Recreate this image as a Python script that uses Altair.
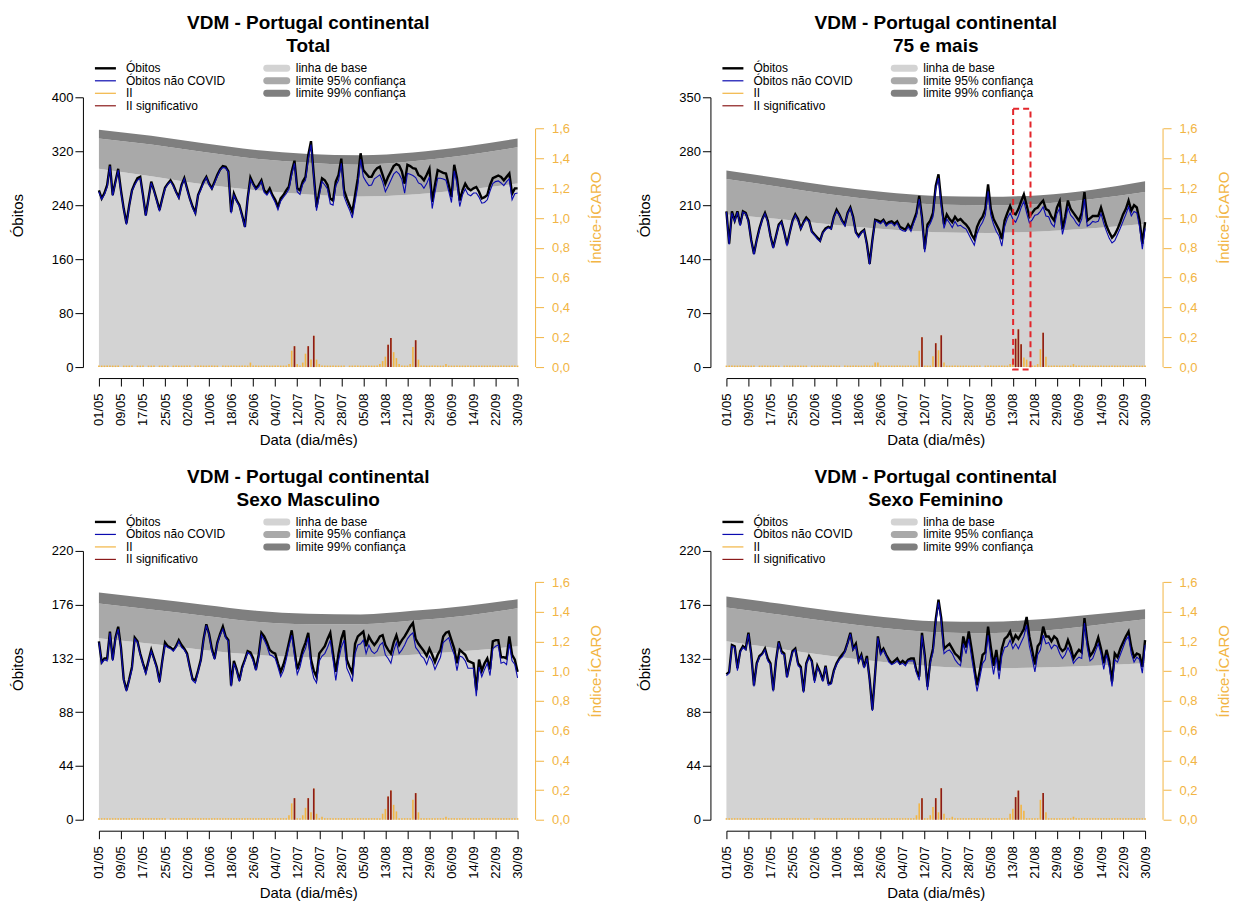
import altair as alt
import pandas as pd

# ---------------------------------------------------------------------------
# Daily mortality surveillance (VDM), 1 May - 30 Sep; day 0 = 01/05
# ---------------------------------------------------------------------------
N_DAYS = 153
DAY_TICKS = list(range(0, 153, 8))
DAY_LABELS = ["01/05", "09/05", "17/05", "25/05", "02/06", "10/06", "18/06",
              "26/06", "04/07", "12/07", "20/07", "28/07", "05/08", "13/08",
              "21/08", "29/08", "06/09", "14/09", "22/09", "30/09"]
ICARO_TICKS = [0, 0.2, 0.4, 0.6, 0.8, 1.0, 1.2, 1.4, 1.6]

# days at which the expected-deaths baseline and limits are given
KNOT_DAYS = [0, 19, 38, 57, 76, 95, 114, 133, 152]

# ---- Total ----------------------------------------------------------------
obitos_total = [
    262, 250, 258, 270, 300, 255, 275, 294, 262, 235,
    213, 240, 262, 272, 280, 282, 255, 225, 250, 275,
    262, 248, 233, 250, 266, 272, 277, 270, 260, 252,
    270, 280, 265, 250, 238, 229, 255, 265, 275, 282,
    272, 265, 275, 285, 293, 298, 297, 290, 230, 257,
    247, 240, 225, 208, 250, 281, 272, 265, 270, 277,
    262, 258, 265, 255, 248, 238, 250, 255, 262, 268,
    290, 306, 265, 262, 275, 282, 314, 335, 285, 237,
    260, 280, 277, 270, 250, 247, 275, 285, 309, 262,
    250, 240, 230, 255, 280, 317, 292, 287, 282, 282,
    290, 295, 297, 285, 272, 282, 290, 298, 301, 299,
    290, 272, 300, 298, 295, 294, 285, 282, 277, 285,
    294, 245, 270, 292, 290, 288, 287, 270, 252, 300,
    280, 247, 262, 272, 265, 262, 265, 267, 260, 250,
    252, 255, 270, 280, 282, 284, 282, 277, 282, 287,
    257, 265, 265]
covid_total = [
    2, 1, 2, 3, 2, 1, 2, 2, 3, 1, 2, 2, 1, 2, 3, 2, 2, 1, 2, 2,
    1, 2, 2, 1, 2, 1, 2, 2, 1, 2, 2, 1, 2, 1, 2, 2, 1, 2, 2, 1,
    2, 1, 2, 2, 1, 2, 2, 1, 2, 2, 1, 2, 2, 1, 2, 3, 2, 2, 3, 2,
    3, 3, 4, 3, 4, 5, 4, 3, 5, 4, 5, 4, 5, 6, 4, 5, 6, 5, 4, 5,
    6, 5, 7, 6, 8, 7, 6, 8, 7, 9, 8, 7, 9, 10, 11, 9, 10, 12, 13, 12,
    11, 13, 12, 10, 12, 14, 13, 12, 11, 13, 12, 14, 13, 12, 11, 13, 12, 11, 12, 13,
    12, 10, 11, 12, 10, 9, 10, 9, 8, 9, 8, 9, 7, 8, 9, 8, 7, 9, 8, 7,
    8, 7, 9, 8, 7, 8, 9, 8, 7, 8, 9, 8, 7]
ii_total = [  # indice ICARO x 100
    1, 1, 1, 1, 1, 1, 1, 1, 0, 1, 1, 1, 1, 0, 1, 1, 1, 0, 1, 1,
    1, 0, 1, 1, 1, 1, 0, 1, 1, 1, 1, 1, 1, 1, 0, 1, 1, 1, 1, 1,
    1, 1, 1, 1, 0, 1, 1, 1, 1, 1, 1, 1, 1, 1, 1, 3, 1, 1, 1, 1,
    1, 1, 1, 1, 1, 1, 1, 1, 1, 2, 11, 14, 2, 1, 3, 9, 14, 5, 21, 5,
    2, 1, 1, 1, 1, 1, 1, 1, 1, 1, 0, 1, 1, 1, 1, 1, 1, 1, 1, 1,
    1, 1, 2, 4, 7, 15, 19.5, 10, 6, 2, 1, 1, 1, 2, 13.5, 18, 5, 1, 1, 1,
    1, 1, 1, 1, 1, 1, 2, 1, 1, 1, 1, 1, 1, 1, 1, 1, 1, 1, 1, 1,
    1, 1, 1, 1, 1, 1, 1, 1, 1, 1, 1, 1, 1]
sig_total = [71, 76, 78, 105, 106, 115]
base_total = [294, 283, 271, 262, 256, 253, 256, 263, 272]
l95_total = [339, 330, 319, 309, 303, 300, 305, 314, 326]
l99_total = [352, 343, 332, 322, 316, 314, 318, 327, 339]

# ---- 75 e mais ------------------------------------------------------------
obitos_75 = [
    202, 160, 202, 190, 202, 185, 202, 200, 190, 165,
    147, 165, 180, 192, 200, 190, 170, 155, 170, 185,
    189, 175, 159, 175, 190, 198, 192, 180, 188, 194,
    190, 176, 172, 168, 164, 175, 180, 182, 180, 195,
    204, 198, 190, 185, 200, 207, 195, 175, 170, 175,
    178, 160, 134, 165, 191, 190, 188, 191, 185, 188,
    189, 186, 189, 182, 180, 178, 185, 180, 190, 200,
    222, 195, 153, 185, 190, 200, 235, 250, 215, 185,
    198, 192, 188, 195, 190, 192, 188, 185, 180, 172,
    166, 182, 190, 195, 205, 237, 205, 192, 185, 178,
    166, 190, 200, 209, 200, 198, 205, 215, 224, 210,
    195, 200, 205, 207, 212, 216, 205, 203, 195, 190,
    207, 215, 179, 195, 216, 205, 200, 195, 190, 200,
    227, 190, 193, 196, 196, 196, 207, 195, 183, 175,
    168, 172, 179, 188, 198, 205, 216, 203, 210, 207,
    190, 160, 188]
covid_75 = [
    1, 1, 2, 1, 1, 2, 1, 1, 2, 1, 1, 1, 2, 1, 1, 2, 1, 1, 1, 2,
    1, 1, 2, 1, 1, 1, 2, 1, 1, 2, 1, 1, 1, 2, 1, 1, 2, 1, 1, 1,
    2, 1, 1, 2, 1, 1, 2, 1, 2, 1, 1, 2, 1, 2, 1, 2, 2, 1, 2, 2,
    2, 3, 2, 3, 3, 2, 3, 4, 3, 4, 4, 3, 4, 5, 4, 5, 4, 5, 6, 5,
    6, 5, 7, 6, 7, 8, 7, 6, 8, 7, 8, 9, 8, 7, 8, 9, 8, 7, 9, 8,
    9, 8, 7, 9, 8, 10, 9, 8, 9, 10, 8, 9, 8, 9, 10, 8, 9, 8, 9, 8,
    8, 9, 7, 8, 9, 8, 7, 8, 7, 8, 9, 7, 8, 7, 8, 7, 8, 9, 7, 8,
    7, 8, 7, 8, 9, 7, 8, 7, 8, 7, 8, 7, 8]
ii_75 = [
    1, 1, 1, 1, 1, 1, 1, 1, 1, 1, 1, 0, 1, 1, 1, 1, 1, 1, 1, 1,
    0, 1, 1, 1, 1, 1, 1, 1, 1, 1, 0, 1, 1, 1, 1, 1, 1, 1, 1, 1,
    1, 1, 0, 1, 1, 1, 1, 1, 1, 1, 1, 1, 1, 1, 3, 3, 1, 1, 1, 1,
    1, 1, 1, 1, 1, 1, 1, 1, 1, 1, 11, 20, 1, 1, 1, 7.3, 16, 11.3, 21.3, 3,
    1, 1, 1, 1, 1, 1, 1, 1, 1, 1, 1, 1, 1, 0, 1, 1, 1, 1, 1, 1,
    1, 1, 1, 2, 5.8, 19, 25.3, 15.3, 6.4, 5, 1, 1, 1, 2, 12, 23, 7, 1, 1, 1,
    1, 1, 1, 1, 1, 1, 2, 1, 1, 1, 1, 1, 1, 1, 1, 1, 1, 1, 1, 1,
    1, 1, 1, 1, 1, 1, 1, 1, 1, 1, 1, 1, 1]
sig_75 = [71, 76, 78, 105, 106, 107, 115]
base_75 = [198, 192, 185, 179, 175, 174, 176, 180, 186]
l95_75 = [244, 234, 224, 216, 211, 210, 212, 218, 227]
l99_75 = [255, 245, 235, 227, 222, 221, 223, 230, 241]
# dashed box marking the mid-August episode (days, deaths)
box_75 = {"d0": [104.1], "d1": [110.4], "v0": [-3], "v1": [335]}

# ---- Sexo Masculino -------------------------------------------------------
obitos_m = [
    146, 129, 132, 132, 154, 131, 149, 158, 141, 115,
    106, 115, 125, 149, 146, 136, 128, 121, 130, 139,
    132, 125, 113, 130, 145, 142, 141, 139, 142, 147,
    143, 140, 136, 125, 115, 114, 122, 131, 148, 160,
    152, 140, 132, 145, 152, 158, 150, 147, 110, 130,
    123, 114, 125, 131, 138, 137, 132, 123, 135, 153,
    150, 145, 139, 137, 136, 128, 121, 127, 135, 145,
    155, 139, 123, 130, 139, 145, 153, 131, 122, 117,
    136, 139, 142, 148, 153, 136, 121, 136, 148, 155,
    131, 125, 120, 144, 150, 152, 154, 142, 150, 146,
    143, 146, 150, 151, 143, 139, 136, 145, 151, 143,
    147, 150, 154, 158, 161, 148, 144, 141, 138, 134,
    140, 135, 129, 135, 139, 150, 153, 154, 147, 140,
    128, 139, 137, 135, 130, 129, 128, 106, 131, 122,
    128, 132, 123, 146, 147, 147, 133, 133, 132, 150,
    135, 131, 121]
covid_m = [
    1, 1, 1, 2, 1, 1, 1, 2, 1, 1, 1, 1, 2, 1, 1, 1, 1, 2, 1, 1,
    1, 1, 1, 1, 2, 1, 1, 1, 1, 1, 2, 1, 1, 1, 1, 2, 1, 1, 1, 1,
    1, 2, 1, 1, 1, 2, 1, 1, 1, 2, 1, 1, 2, 1, 1, 2, 2, 1, 2, 2,
    3, 3, 4, 3, 4, 3, 4, 5, 4, 3, 4, 5, 4, 5, 4, 5, 4, 5, 6, 5,
    6, 5, 6, 7, 6, 5, 7, 6, 7, 8, 7, 6, 7, 8, 7, 8, 7, 6, 7, 8,
    7, 8, 7, 6, 8, 7, 8, 7, 6, 7, 8, 7, 6, 7, 8, 7, 6, 7, 6, 7,
    6, 5, 6, 7, 6, 5, 6, 5, 6, 5, 6, 5, 4, 5, 6, 5, 4, 5, 6, 5,
    5, 4, 5, 6, 5, 4, 5, 4, 5, 6, 5, 4, 5]
ii_m = [
    1, 1, 1, 1, 1, 1, 1, 1, 1, 1, 1, 1, 1, 1, 1, 1, 1, 1, 1, 1,
    1, 1, 1, 1, 1, 0, 1, 1, 1, 1, 1, 1, 1, 1, 1, 1, 1, 1, 1, 1,
    1, 1, 1, 1, 1, 1, 1, 1, 1, 1, 1, 1, 1, 1, 1, 1, 1, 1, 1, 1,
    1, 1, 1, 1, 1, 1, 1, 1, 1, 3, 11, 14.5, 1, 1, 3, 8, 14.5, 5, 21, 4,
    1, 2, 1, 1, 1, 1, 1, 1, 1, 1, 1, 1, 1, 1, 1, 1, 1, 1, 1, 1,
    1, 1, 1, 4, 7.3, 15.6, 19.6, 10, 5.6, 1, 1, 1, 1, 1, 13.4, 17.9, 5, 1, 1, 1,
    1, 1, 1, 1, 1, 1, 2, 1, 1, 1, 1, 1, 1, 1, 1, 1, 1, 1, 1, 1,
    1, 1, 1, 1, 1, 1, 1, 1, 1, 1, 1, 1, 1]
sig_m = [71, 76, 78, 105, 106, 115]
base_m = [148.6, 144, 139, 135, 133, 133, 135, 138, 142]
l95_m = [177, 172, 167, 162, 160, 160, 163, 167, 173]
l99_m = [186, 181, 176, 171, 168.5, 168, 171, 175, 180.5]

# ---- Sexo Feminino --------------------------------------------------------
obitos_f = [
    119, 121, 143, 142, 124, 138, 142, 140, 153, 136,
    110, 128, 134, 136, 140, 132, 128, 106, 130, 146,
    138, 136, 117, 128, 138, 140, 128, 125, 105, 128,
    134, 130, 114, 126, 121, 114, 126, 112, 112, 122,
    128, 132, 135, 138, 145, 153, 140, 144, 130, 135,
    125, 134, 115, 90, 120, 150, 137, 140, 135, 131,
    128, 130, 132, 128, 130, 128, 131, 132, 132, 122,
    117, 153, 135, 109, 130, 140, 164, 180, 165, 140,
    142, 144, 140, 136, 134, 131, 150, 141, 154, 140,
    125, 110, 122, 135, 137, 158, 141, 126, 139, 122,
    140, 148, 150, 154, 146, 151, 148, 152, 156, 166,
    150, 139, 127, 142, 145, 158, 150, 150, 146, 150,
    148, 141, 138, 140, 147, 141, 132, 136, 139, 137,
    165, 146, 134, 137, 142, 149, 140, 128, 139, 130,
    113, 136, 133, 140, 145, 150, 154, 141, 133, 136,
    135, 125, 147]
covid_f = [
    1, 1, 1, 1, 2, 1, 1, 1, 1, 2, 1, 1, 1, 1, 1, 2, 1, 1, 1, 1,
    2, 1, 1, 1, 1, 1, 2, 1, 1, 1, 1, 1, 2, 1, 1, 1, 1, 2, 1, 1,
    1, 1, 2, 1, 1, 1, 1, 2, 1, 1, 1, 2, 1, 1, 1, 1, 2, 1, 1, 2,
    1, 2, 2, 1, 2, 2, 1, 2, 2, 2, 3, 2, 2, 3, 2, 3, 3, 2, 3, 4,
    4, 5, 4, 5, 6, 5, 6, 5, 6, 7, 6, 5, 6, 7, 6, 7, 8, 7, 6, 7,
    6, 7, 8, 7, 6, 7, 8, 7, 6, 7, 8, 7, 6, 7, 6, 7, 6, 5, 6, 7,
    6, 5, 6, 5, 6, 5, 4, 5, 6, 5, 4, 5, 4, 5, 4, 5, 4, 5, 4, 5,
    4, 5, 4, 5, 4, 3, 4, 5, 4, 3, 4, 5, 4]
ii_f = [
    1, 1, 1, 1, 1, 1, 1, 1, 1, 1, 1, 1, 1, 1, 1, 1, 1, 1, 1, 1,
    1, 1, 1, 1, 1, 1, 1, 1, 1, 1, 1, 0, 1, 1, 1, 1, 1, 1, 1, 1,
    1, 1, 1, 1, 1, 1, 1, 1, 1, 1, 1, 1, 1, 1, 1, 1, 1, 1, 1, 1,
    1, 1, 1, 1, 1, 1, 1, 1, 1, 3, 11, 14.5, 1, 1, 3, 8.5, 14.5, 5, 21.2, 4,
    1, 1, 2, 1, 1, 1, 1, 1, 1, 1, 1, 1, 1, 1, 1, 1, 1, 1, 1, 1,
    1, 1, 1, 4, 7.3, 15.2, 19.6, 10, 6, 1, 1, 1, 1, 1, 13.4, 17.9, 5, 1, 1, 1,
    1, 1, 1, 1, 1, 1, 2, 1, 1, 1, 1, 1, 1, 1, 1, 1, 1, 1, 1, 1,
    1, 1, 1, 1, 1, 1, 1, 1, 1, 1, 1, 1, 1]
sig_f = [71, 76, 78, 105, 106, 115]
base_f = [146, 140, 134, 129, 125.5, 124, 124.5, 126, 128]
l95_f = [173.7, 168, 162, 157, 153.5, 152.7, 154.5, 159, 164]
l99_f = [182.7, 177, 171, 166, 162.5, 162, 164, 168, 172.3]

PANELS = [
    dict(sub="Total", obitos=obitos_total, covid=covid_total, ii=ii_total, sig=sig_total,
         base=base_total, l95=l95_total, l99=l99_total, yticks=[0, 80, 160, 240, 320, 400], box=None),
    dict(sub="75 e mais", obitos=obitos_75, covid=covid_75, ii=ii_75, sig=sig_75,
         base=base_75, l95=l95_75, l99=l99_75, yticks=[0, 70, 140, 210, 280, 350], box=box_75),
    dict(sub="Sexo Masculino", obitos=obitos_m, covid=covid_m, ii=ii_m, sig=sig_m,
         base=base_m, l95=l95_m, l99=l99_m, yticks=[0, 44, 88, 132, 176, 220], box=None),
    dict(sub="Sexo Feminino", obitos=obitos_f, covid=covid_f, ii=ii_f, sig=sig_f,
         base=base_f, l95=l95_f, l99=l99_f, yticks=[0, 44, 88, 132, 176, 220], box=None),
]

# ---------------------------------------------------------------------------
FONT = "Liberation Sans"
ORANGE = "#F2B544"
DARKRED = "#8B1A1A"
BLUE = "#0B0BB0"
LIGHT = "#D3D3D3"
MID = "#A9A9A9"
DARK = "#7F7F7F"
W = 419
RIGHT_OFFSET = 18

label_expr = "[" + ",".join(f"'{s}'" for s in DAY_LABELS) + "][round(datum.value / 8)]"
X_SCALE = alt.Scale(domain=[0, 152], nice=False, zero=False)
X_AXIS = alt.Axis(values=DAY_TICKS, labelExpr=label_expr, labelAngle=270, offset=11,
                  tickSize=8, labelPadding=7, labelFontSize=13, labelColor="black",
                  domainColor="black", tickColor="black", grid=False,
                  titleFontSize=15, titleFontWeight="normal", titlePadding=7, titleColor="black")
RIGHT_SCALE = alt.Scale(domain=[0, 1.81], nice=False, zero=True)
RIGHT_AXIS = alt.Axis(orient="right", values=ICARO_TICKS, offset=RIGHT_OFFSET, domain=False,
                      labelExpr="replace(format(datum.value, '.1f'), '.', ',')",
                      tickSize=8, labelPadding=8, labelFontSize=13, labelColor=ORANGE,
                      tickColor=ORANGE, grid=False, titleColor=ORANGE, titleFontSize=15,
                      titleFontWeight="normal", titleAngle=270, titleY=120, titlePadding=34)


def x_enc():
    return alt.X("dia:Q", scale=X_SCALE, axis=X_AXIS, title="Data (dia/mês)")


def left_axis(p):
    return alt.Axis(values=p["yticks"], offset=16, tickSize=8, labelPadding=2, labelFontSize=13,
                    labelColor="black", domainColor="black", tickColor="black", grid=False,
                    titleFontSize=15, titleFontWeight="normal", titleColor="black",
                    titlePadding=26, titleY=118)


def legend_layers():
    one = pd.DataFrame({"k": [0]})
    layers = []
    col1 = [("Óbitos", "black", 2.4), ("Óbitos não COVID", BLUE, 1.2),
            ("II", ORANGE, 1.2), ("II significativo", DARKRED, 1.2)]
    col2 = [("linha de base", LIGHT), ("limite 95% confiança", MID), ("limite 99% confiança", DARK)]
    rows = [-29, -16.5, -4, 8.5]
    for (lab, col, sw), yy in zip(col1, rows):
        layers.append(alt.Chart(one).mark_rule(color=col, strokeWidth=sw).encode(
            x=alt.value(-4), x2=alt.value(17), y=alt.value(yy)))
        layers.append(alt.Chart(one).mark_text(text=lab, align="left", baseline="middle",
                                               fontSize=12, font=FONT, color="black").encode(
            x=alt.value(27), y=alt.value(yy)))
    for (lab, col), yy in zip(col2, rows):
        layers.append(alt.Chart(one).mark_rule(color=col, strokeWidth=7, strokeCap="round").encode(
            x=alt.value(168), x2=alt.value(188), y=alt.value(yy)))
        layers.append(alt.Chart(one).mark_text(text=lab, align="left", baseline="middle",
                                               fontSize=12, font=FONT, color="black").encode(
            x=alt.value(197), y=alt.value(yy)))
    return layers


def panel(p, height):
    ymax = p["yticks"][-1]
    yscale = alt.Scale(domain=[0, ymax], nice=False, zero=True)
    series = pd.DataFrame({
        "dia": list(range(N_DAYS)),
        "obitos": p["obitos"],
        "nao_covid": [o - c for o, c in zip(p["obitos"], p["covid"])],
        "ii": [v / 100 for v in p["ii"]],
        "sig": [1 if d in p["sig"] else 0 for d in range(N_DAYS)],
        "zero": [0] * N_DAYS,
    })
    bands = pd.DataFrame({"dia": KNOT_DAYS, "base": p["base"], "l95": p["l95"],
                          "l99": p["l99"], "zero": [0] * len(KNOT_DAYS)})

    def yl(field, axis):
        return alt.Y(f"{field}:Q", scale=yscale, axis=axis, title="Óbitos")

    ax = left_axis(p)
    band_base = alt.Chart(bands)
    under = alt.layer(
        band_base.mark_area(color=LIGHT, interpolate="monotone").encode(
            x=x_enc(), y=yl("base", ax), y2="zero"),
        band_base.mark_area(color=MID, interpolate="monotone").encode(
            x=x_enc(), y=yl("l95", ax), y2="base"),
        band_base.mark_area(color=DARK, interpolate="monotone").encode(
            x=x_enc(), y=yl("l99", ax), y2="l95"),
    )

    yr = alt.Y("ii:Q", scale=RIGHT_SCALE, axis=RIGHT_AXIS, title="Índice-ÍCARO")
    bars = alt.layer(
        alt.Chart(series).mark_rule(color=ORANGE, strokeWidth=1.6).encode(
            x=x_enc(), y=yr, y2="zero"),
        alt.Chart(series).mark_rule(color=DARKRED, strokeWidth=1.6).encode(
            x=x_enc(), y=yr, y2="zero").transform_filter("datum.sig == 1"),
        alt.Chart(pd.DataFrame({"lo": [0.0], "hi": [1.6]})).mark_rule(color=ORANGE).encode(
            x=alt.value(W + RIGHT_OFFSET),
            y=alt.Y("lo:Q", scale=RIGHT_SCALE, axis=RIGHT_AXIS, title="Índice-ÍCARO"), y2="hi"),
    )

    top_layers = [
        alt.Chart(series).mark_line(color="black", strokeWidth=2.4).encode(
            x=x_enc(), y=yl("obitos", None)),
        alt.Chart(series).mark_line(color=BLUE, strokeWidth=1.1).encode(
            x=x_enc(), y=yl("nao_covid", None)),
    ]
    if p["box"] is not None:
        top_layers.append(
            alt.Chart(pd.DataFrame(p["box"])).mark_rect(
                fillOpacity=0, stroke="#E3262B", strokeWidth=2, strokeDash=[6, 4]).encode(
                x=alt.X("d0:Q", scale=X_SCALE, axis=X_AXIS, title="Data (dia/mês)"), x2="d1",
                y=yl("v0", None), y2="v1"))
    top_layers += legend_layers()
    top = alt.layer(*top_layers)

    return alt.layer(under, bars, top).resolve_scale(y="independent").properties(
        width=W, height=height,
        title=alt.TitleParams(text=["VDM - Portugal continental", p["sub"]], fontSize=19,
                              fontWeight="bold", font=FONT, color="black", anchor="middle",
                              frame="group", offset=6, lineHeight=23),
    )


panels = [panel(PANELS[0], 270), panel(PANELS[1], 270),
          panel(PANELS[2], 269), panel(PANELS[3], 269)]

chart = alt.concat(
    *panels, columns=2, spacing={"row": 184, "column": 209}, bounds="flush",
).properties(
    padding={"left": 10, "top": 14, "right": 5, "bottom": 5},
    background="white",
).configure(font=FONT).configure_view(stroke=None)

chart.save("out.html", embed_options={"renderer": "svg", "actions": False})
